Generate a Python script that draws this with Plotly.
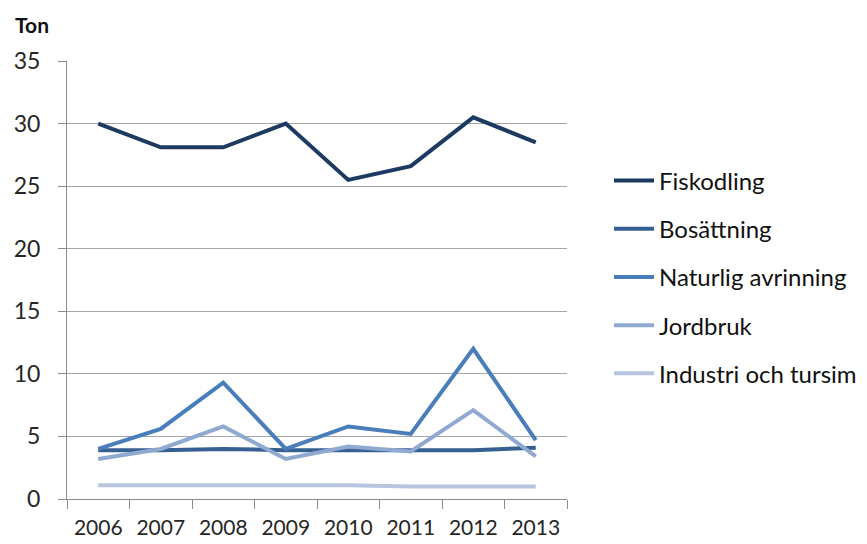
import plotly.graph_objects as go

years = ["2006", "2007", "2008", "2009", "2010", "2011", "2012", "2013"]

fiskodling = [30.0, 28.1, 28.1, 30.0, 25.5, 26.6, 30.5, 28.5]
bosattning = [3.9, 3.9, 4.0, 3.9, 3.9, 3.9, 3.9, 4.1]
naturlig = [4.0, 5.6, 9.3, 4.0, 5.8, 5.2, 12.0, 4.7]
jordbruk = [3.2, 4.0, 5.8, 3.2, 4.2, 3.8, 7.1, 3.4]
industri = [1.1, 1.1, 1.1, 1.1, 1.1, 1.0, 1.0, 1.0]

series = [
    ("Fiskodling", fiskodling, "#1c3a62"),
    ("Bosättning", bosattning, "#376092"),
    ("Naturlig avrinning", naturlig, "#4a7ebb"),
    ("Jordbruk", jordbruk, "#8fa9d0"),
    ("Industri och tursim", industri, "#b7c6e0"),
]

fig = go.Figure()
for name, vals, color in series:
    fig.add_trace(
        go.Scatter(
            x=years,
            y=vals,
            name=name,
            mode="lines",
            line=dict(color=color, width=4),
            legendgroup=name,
        )
    )

# page body has an 8px margin, so everything is offset by 8px
fig.update_layout(
    width=867,
    height=544,
    plot_bgcolor="white",
    paper_bgcolor="white",
    font=dict(family="Lato, sans-serif", size=21, color="#262626"),
    margin=dict(l=59, r=308, t=53, b=53, autoexpand=False),
    xaxis=dict(
        type="category",
        range=[-0.5, 7.5],
        tickson="boundaries",
        ticks="outside",
        ticklen=9,
        tickcolor="#8c8c8c",
        showline=True,
        linecolor="#8c8c8c",
        showgrid=False,
        tickfont=dict(size=21),
        ticklabelstandoff=10,
        automargin=False,
    ),
    yaxis=dict(
        range=[0, 35],
        dtick=5,
        ticks="outside",
        ticklen=8,
        tickcolor="#8c8c8c",
        showline=True,
        linecolor="#8c8c8c",
        gridcolor="#a6a6a6",
        zeroline=False,
        tickfont=dict(size=23),
        ticklabelstandoff=13,
        automargin=False,
    ),
    legend=dict(
        x=1.084,
        y=0.507,
        xanchor="left",
        yanchor="middle",
        traceorder="grouped",
        tracegroupgap=14,
        font=dict(size=24, color="#111111"),
        itemwidth=40,
    ),
    annotations=[
        dict(
            text="<b>Ton</b>",
            xref="paper",
            yref="paper",
            x=-0.108,
            y=1.083,
            xanchor="left",
            yanchor="middle",
            showarrow=False,
            font=dict(size=21, color="#111111"),
        )
    ],
)

fig.write_html("out.html")
